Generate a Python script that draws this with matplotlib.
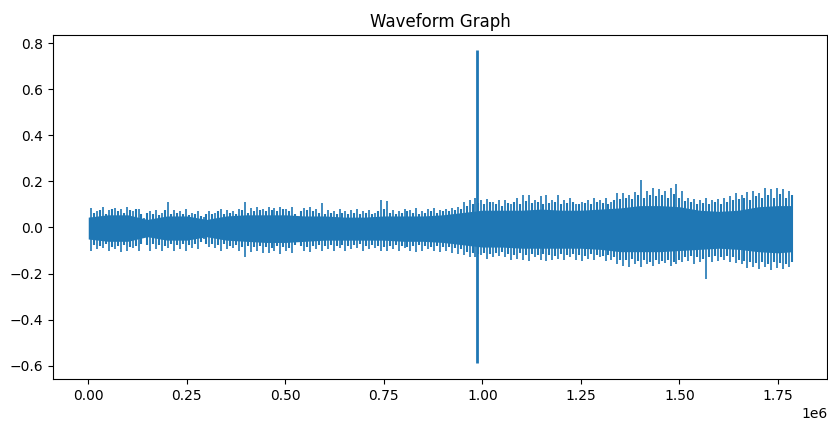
import matplotlib
matplotlib.use('Agg')
import matplotlib.pyplot as P

# waveform, sample index in millions

# solid core of the signal, every 0.05e6 samples
core_t = [0.00, 0.05, 0.10, 0.15, 0.20, 0.25, 0.30, 0.35, 0.40, 0.45, 0.50, 0.55,
          0.60, 0.65, 0.70, 0.75, 0.80, 0.85, 0.90, 0.95, 1.00, 1.05, 1.10, 1.15,
          1.20, 1.25, 1.30, 1.35, 1.40, 1.45, 1.50, 1.55, 1.60, 1.65, 1.70, 1.75, 1.786]
core_hi = [0.045, 0.055, 0.055, 0.035, 0.05, 0.05, 0.035, 0.05, 0.055, 0.055, 0.055, 0.05,
           0.05, 0.045, 0.045, 0.05, 0.05, 0.05, 0.055, 0.065, 0.075, 0.075, 0.075, 0.08,
           0.075, 0.075, 0.08, 0.085, 0.095, 0.095, 0.09, 0.075, 0.07, 0.075, 0.09, 0.095, 0.095]
core_lo = [-0.05, -0.06, -0.06, -0.04, -0.055, -0.055, -0.04, -0.055, -0.06, -0.065, -0.065, -0.06,
           -0.055, -0.055, -0.055, -0.055, -0.06, -0.06, -0.065, -0.075, -0.085, -0.085, -0.09, -0.09,
           -0.09, -0.09, -0.095, -0.105, -0.105, -0.105, -0.10, -0.095, -0.09, -0.095, -0.105, -0.11, -0.105]

# tall spikes every 0.015e6 samples, first at 0.0075e6
spike_hi = [0.085, 0.07, 0.09, 0.075, 0.085, 0.08, 0.09, 0.07, 0.08, 0.04,
            0.07, 0.075, 0.065, 0.11, 0.075, 0.07, 0.08, 0.065, 0.07, 0.045,
            0.07, 0.065, 0.08, 0.075, 0.07, 0.08, 0.11, 0.085, 0.09, 0.08,
            0.09, 0.085, 0.09, 0.08, 0.09, 0.04, 0.085, 0.09, 0.08, 0.105,
            0.075, 0.07, 0.08, 0.07, 0.075, 0.08, 0.07, 0.075, 0.065, 0.12,
            0.115, 0.075, 0.07, 0.08, 0.075, 0.085, 0.07, 0.08, 0.085, 0.075,
            0.08, 0.085, 0.09, 0.11, 0.12, 0.13, 0.12, 0.125, 0.11, 0.12,
            0.12, 0.10, 0.13, 0.14, 0.14, 0.12, 0.135, 0.14, 0.12, 0.14,
            0.12, 0.13, 0.10, 0.11, 0.12, 0.13, 0.12, 0.13, 0.11, 0.15,
            0.15, 0.14, 0.155, 0.205, 0.16, 0.17, 0.165, 0.16, 0.17, 0.19,
            0.16, 0.13, 0.125, 0.12, 0.13, 0.12, 0.125, 0.13, 0.135, 0.15,
            0.14, 0.155, 0.16, 0.15, 0.17, 0.165, 0.17, 0.165, 0.16]
spike_lo = [-0.10, -0.095, -0.09, -0.10, -0.095, -0.105, -0.10, -0.09, -0.10, -0.04,
            -0.10, -0.095, -0.10, -0.09, -0.10, -0.095, -0.10, -0.09, -0.095, -0.05,
            -0.085, -0.09, -0.10, -0.095, -0.09, -0.10, -0.127, -0.105, -0.10, -0.11,
            -0.11, -0.10, -0.115, -0.10, -0.11, -0.04, -0.10, -0.105, -0.095, -0.10,
            -0.095, -0.10, -0.09, -0.10, -0.095, -0.09, -0.10, -0.095, -0.09, -0.10,
            -0.10, -0.095, -0.10, -0.09, -0.10, -0.105, -0.10, -0.095, -0.10, -0.105,
            -0.10, -0.11, -0.115, -0.12, -0.13, -0.13, -0.12, -0.135, -0.13, -0.125,
            -0.13, -0.14, -0.135, -0.14, -0.145, -0.13, -0.14, -0.145, -0.14, -0.135,
            -0.14, -0.13, -0.14, -0.145, -0.135, -0.14, -0.13, -0.145, -0.14, -0.16,
            -0.165, -0.17, -0.16, -0.17, -0.16, -0.165, -0.16, -0.155, -0.165, -0.16,
            -0.15, -0.145, -0.16, -0.15, -0.225, -0.15, -0.145, -0.14, -0.15, -0.155,
            -0.16, -0.175, -0.17, -0.18, -0.17, -0.185, -0.175, -0.18, -0.17]
spike_step = 0.015
spike_start = 0.0075

# shorter spikes in between, first at 0.015e6
mid_hi = [0.065, 0.075, 0.06, 0.08, 0.07, 0.065, 0.075, 0.08, 0.06, 0.065,
          0.06, 0.055, 0.075, 0.06, 0.065, 0.06, 0.055, 0.06, 0.05, 0.06,
          0.06, 0.07, 0.06, 0.065, 0.06, 0.075, 0.065, 0.07, 0.075, 0.07,
          0.075, 0.07, 0.08, 0.07, 0.06, 0.07, 0.075, 0.07, 0.065, 0.06,
          0.065, 0.06, 0.065, 0.06, 0.065, 0.06, 0.065, 0.06, 0.07, 0.08,
          0.065, 0.06, 0.065, 0.07, 0.065, 0.06, 0.065, 0.07, 0.065, 0.07,
          0.07, 0.075, 0.08, 0.095, 0.10, 0.105, 0.10, 0.11, 0.10, 0.095,
          0.105, 0.11, 0.10, 0.115, 0.105, 0.11, 0.10, 0.105, 0.11, 0.10,
          0.105, 0.11, 0.10, 0.105, 0.10, 0.11, 0.105, 0.10, 0.12, 0.125,
          0.13, 0.125, 0.14, 0.13, 0.14, 0.135, 0.14, 0.13, 0.145, 0.13,
          0.115, 0.11, 0.10, 0.105, 0.10, 0.11, 0.10, 0.11, 0.12, 0.125,
          0.13, 0.12, 0.135, 0.13, 0.14, 0.13, 0.145, 0.13, 0.14]
mid_lo = [-0.075, -0.08, -0.07, -0.085, -0.08, -0.075, -0.085, -0.08, -0.07, -0.075,
          -0.07, -0.075, -0.08, -0.07, -0.075, -0.07, -0.075, -0.07, -0.065, -0.07,
          -0.07, -0.075, -0.07, -0.08, -0.075, -0.085, -0.08, -0.085, -0.08, -0.085,
          -0.09, -0.08, -0.085, -0.09, -0.075, -0.08, -0.085, -0.08, -0.075, -0.08,
          -0.075, -0.08, -0.075, -0.08, -0.075, -0.07, -0.08, -0.075, -0.08, -0.085,
          -0.08, -0.075, -0.08, -0.085, -0.08, -0.075, -0.08, -0.085, -0.08, -0.085,
          -0.085, -0.09, -0.095, -0.105, -0.11, -0.115, -0.11, -0.115, -0.11, -0.105,
          -0.115, -0.12, -0.11, -0.12, -0.115, -0.12, -0.115, -0.12, -0.125, -0.115,
          -0.12, -0.115, -0.12, -0.125, -0.115, -0.12, -0.125, -0.12, -0.13, -0.14,
          -0.14, -0.135, -0.145, -0.14, -0.15, -0.14, -0.145, -0.14, -0.15, -0.14,
          -0.13, -0.125, -0.13, -0.135, -0.13, -0.125, -0.13, -0.125, -0.13, -0.14,
          -0.145, -0.15, -0.155, -0.15, -0.16, -0.15, -0.155, -0.16, -0.15]
mid_start = 0.015

# the one big click
click_t = 0.986
click_hi = 0.768
click_lo = -0.59

color = '#1f77b4'

fig = P.figure(figsize=(8.29, 4.25), dpi=100)
ax = fig.add_axes((0.064, 0.108, 0.934, 0.81))

ct = [t * 1e6 for t in core_t]
ax.fill_between(ct, core_lo, core_hi, color=color, linewidth=0)

mt = [(mid_start + i * spike_step) * 1e6 for i in range(len(mid_hi))]
ax.vlines(mt, mid_lo, mid_hi, colors=color, linewidth=1.5)

st = [(spike_start + i * spike_step) * 1e6 for i in range(len(spike_hi))]
ax.vlines(st, spike_lo, spike_hi, colors=color, linewidth=1.2)

ax.vlines([click_t * 1e6], [click_lo], [click_hi], colors=color, linewidth=2)

ax.set_title('Waveform Graph')

P.savefig('out.png', dpi=100)
